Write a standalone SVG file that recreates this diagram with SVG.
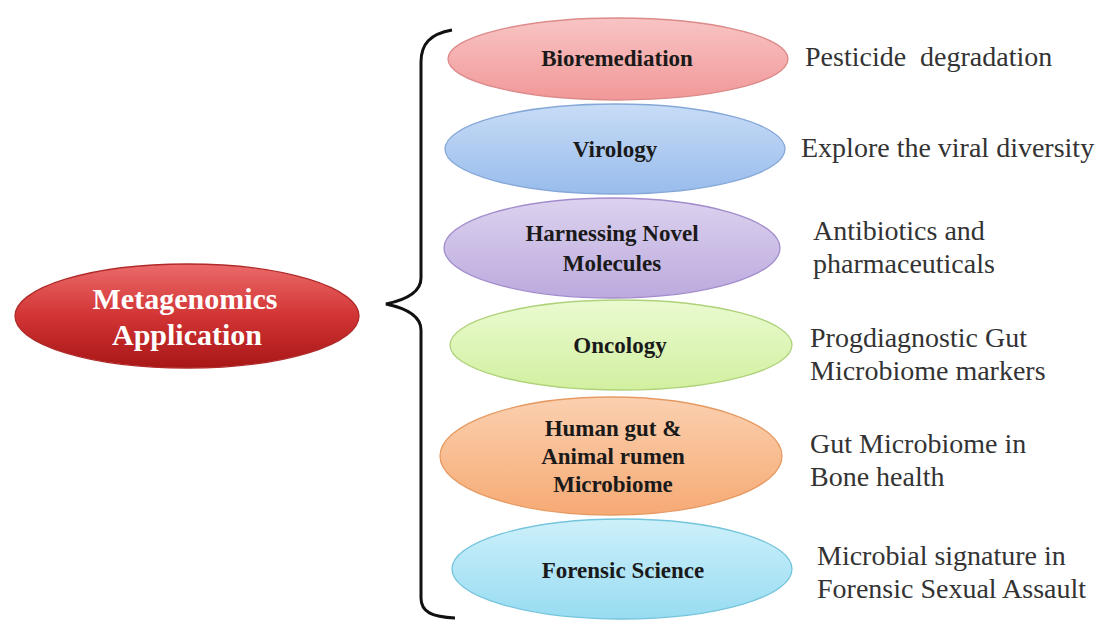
<svg xmlns="http://www.w3.org/2000/svg" width="1097" height="620" viewBox="0 0 1097 620">
  <style>
    .lbl { font-family: "Liberation Serif", "Times New Roman", serif; font-weight: bold; font-size: 23px; fill: #1a1a1a; text-anchor: middle; }
    .root { font-family: "Liberation Serif", "Times New Roman", serif; font-weight: bold; font-size: 30px; fill: #ffffff; text-anchor: middle; }
    .note { font-family: "Liberation Serif", "Times New Roman", serif; font-size: 28px; fill: #333333; }
    .node ellipse { stroke-width: 1.3; }
  </style>
  <defs>
    <linearGradient id="gRed" x1="0" y1="0" x2="0" y2="1">
      <stop offset="0" stop-color="#ec6a6a"/>
      <stop offset="0.5" stop-color="#d23434"/>
      <stop offset="1" stop-color="#a81616"/>
    </linearGradient>
    <linearGradient id="gPink" x1="0" y1="0" x2="0" y2="1">
      <stop offset="0" stop-color="#f8c4c4"/>
      <stop offset="1" stop-color="#f29898"/>
    </linearGradient>
    <linearGradient id="gBlue" x1="0" y1="0" x2="0" y2="1">
      <stop offset="0" stop-color="#c8dcf6"/>
      <stop offset="1" stop-color="#98bcec"/>
    </linearGradient>
    <linearGradient id="gPurple" x1="0" y1="0" x2="0" y2="1">
      <stop offset="0" stop-color="#dcd2ee"/>
      <stop offset="1" stop-color="#bcaade"/>
    </linearGradient>
    <linearGradient id="gGreen" x1="0" y1="0" x2="0" y2="1">
      <stop offset="0" stop-color="#eafad0"/>
      <stop offset="1" stop-color="#d2f0a0"/>
    </linearGradient>
    <linearGradient id="gOrange" x1="0" y1="0" x2="0" y2="1">
      <stop offset="0" stop-color="#fbd0b0"/>
      <stop offset="1" stop-color="#f6aa74"/>
    </linearGradient>
    <linearGradient id="gCyan" x1="0" y1="0" x2="0" y2="1">
      <stop offset="0" stop-color="#cdf0fa"/>
      <stop offset="1" stop-color="#98dcf2"/>
    </linearGradient>
  </defs>

  <rect width="1097" height="620" fill="#ffffff"/>

  <!-- root node -->
  <g id="root" class="node">
    <ellipse cx="187" cy="316" rx="172" ry="52" fill="url(#gRed)" stroke="#b02a2a"/>
    <text class="root" x="185" y="309">Metagenomics</text>
    <text class="root" x="187" y="345">Application</text>
  </g>

  <!-- brace joining the root to its applications -->
  <g id="connectors">
    <path d="M452,30 C430,34 421,44 421,62 L421,278 C421,292 405,300 386,304 C405,308 421,316 421,330 L421,598 C421,612 432,617 455,618" fill="none" stroke="#111111" stroke-width="3"/>
  </g>

  <!-- application nodes -->
  <g id="bioremediation" class="node">
    <ellipse cx="618" cy="59" rx="170" ry="41" fill="url(#gPink)" stroke="#dc8a8a"/>
    <text class="lbl" x="617" y="66">Bioremediation</text>
  </g>
  <g id="virology" class="node">
    <ellipse cx="615" cy="149" rx="170" ry="45" fill="url(#gBlue)" stroke="#86a8d8"/>
    <text class="lbl" x="615" y="157">Virology</text>
  </g>
  <g id="novel-molecules" class="node">
    <ellipse cx="612" cy="248" rx="168" ry="50" fill="url(#gPurple)" stroke="#a28ccc"/>
    <text class="lbl" x="612" y="241">Harnessing Novel</text>
    <text class="lbl" x="612" y="271">Molecules</text>
  </g>
  <g id="oncology" class="node">
    <ellipse cx="621" cy="345" rx="171" ry="45" fill="url(#gGreen)" stroke="#aed27a"/>
    <text class="lbl" x="620" y="353">Oncology</text>
  </g>
  <g id="gut-rumen" class="node">
    <ellipse cx="611" cy="456" rx="171" ry="59" fill="url(#gOrange)" stroke="#e69a62"/>
    <text class="lbl" x="613" y="436">Human gut &amp;</text>
    <text class="lbl" x="613" y="464">Animal rumen</text>
    <text class="lbl" x="613" y="492">Microbiome</text>
  </g>
  <g id="forensic" class="node">
    <ellipse cx="622" cy="569" rx="170" ry="50" fill="url(#gCyan)" stroke="#74c4dc"/>
    <text class="lbl" x="623" y="578">Forensic Science</text>
  </g>

  <!-- descriptions -->
  <g id="descriptions">
    <text class="note" x="805" y="66" xml:space="preserve">Pesticide  degradation</text>
    <text class="note" x="801" y="157">Explore the viral diversity</text>
    <text class="note" x="813" y="240">Antibiotics and</text>
    <text class="note" x="813" y="273">pharmaceuticals</text>
    <text class="note" x="810" y="347">Progdiagnostic Gut</text>
    <text class="note" x="810" y="380">Microbiome markers</text>
    <text class="note" x="810" y="453">Gut Microbiome in</text>
    <text class="note" x="810" y="486">Bone health</text>
    <text class="note" x="817" y="565">Microbial signature in</text>
    <text class="note" x="817" y="598">Forensic Sexual Assault</text>
  </g>
</svg>
